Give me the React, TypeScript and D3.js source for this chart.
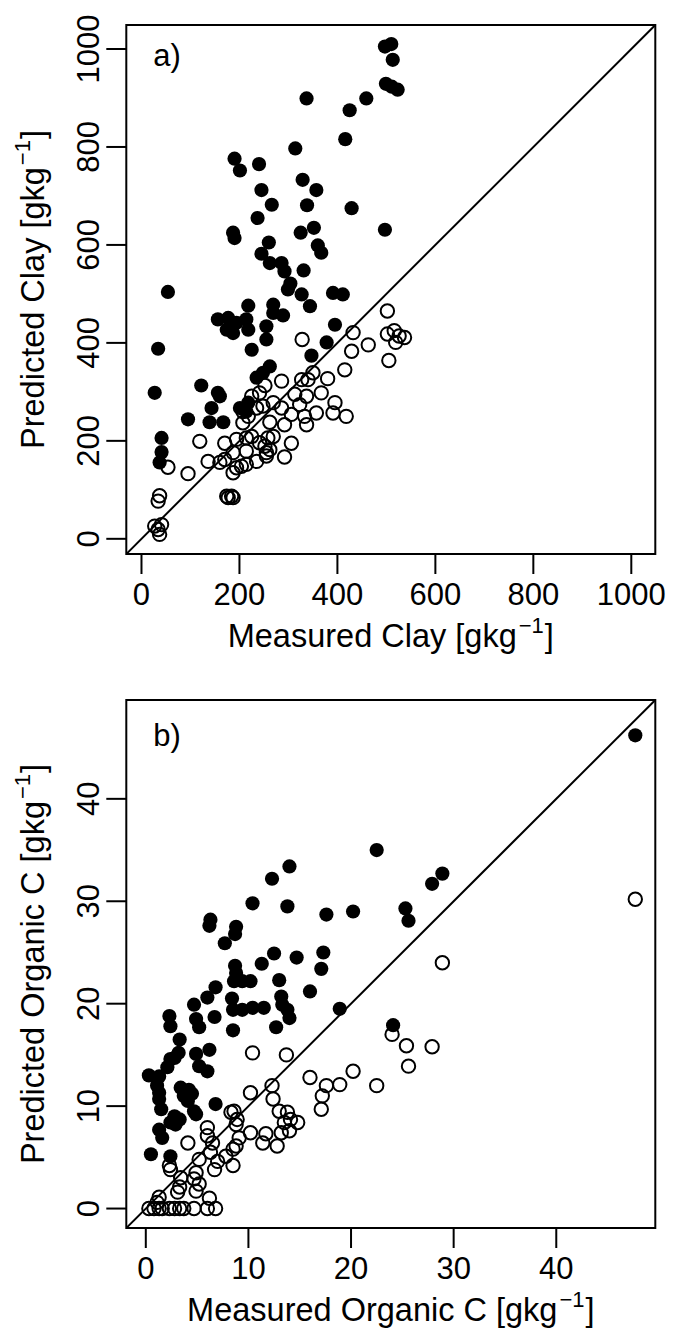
import React from "react";
import * as d3 from "d3";

// ---------- data ----------
const clayTicks = [0, 200, 400, 600, 800, 1000];
const ocTicks = [0, 10, 20, 30, 40];

// Clay: filled circles (measured, predicted)
const clayFilled: [number, number][] = [
  [497, 1005], [510, 1010], [513, 978], [499, 929], [511, 923], [523, 917], [497, 631],
  [337, 899], [459, 899], [425, 875], [416, 816], [314, 797], [190, 776], [201, 752],
  [240, 765], [329, 733], [357, 712], [245, 712], [266, 682], [338, 681], [429, 675],
  [237, 655], [187, 625], [190, 614], [325, 625], [352, 635], [260, 605], [360, 599],
  [367, 584], [245, 582], [262, 563], [286, 563], [292, 546], [331, 548], [304, 521],
  [299, 509], [54, 504], [327, 499], [391, 502], [411, 499], [344, 475], [218, 476],
  [269, 478], [269, 461], [289, 456], [156, 448], [177, 451], [194, 441], [214, 448],
  [174, 427], [187, 420], [218, 427], [255, 434], [255, 407], [395, 437], [34, 388],
  [225, 386], [378, 401], [347, 374], [262, 352], [248, 339], [235, 329], [27, 298],
  [122, 313], [156, 298], [160, 291], [143, 267], [201, 267], [218, 278], [214, 260],
  [95, 244], [139, 238], [167, 238], [41, 206], [41, 177], [37, 156],
];

// Clay: open circles
const clayOpen: [number, number][] = [
  [502, 465], [516, 425], [526, 414], [537, 411], [519, 401], [502, 418], [505, 364],
  [463, 396], [429, 383], [432, 421], [415, 345], [380, 327], [328, 407], [350, 339],
  [340, 325], [327, 325], [286, 322], [252, 313], [241, 298], [367, 298], [313, 295],
  [337, 291], [225, 291], [269, 278], [286, 267], [323, 274], [395, 278], [248, 271],
  [235, 267], [207, 260], [218, 250], [306, 254], [333, 250], [357, 257], [391, 257],
  [418, 250], [262, 238], [207, 237], [292, 233], [337, 233], [119, 199], [170, 195],
  [194, 203], [214, 206], [225, 209], [241, 196], [252, 189], [258, 206], [269, 209],
  [306, 195], [187, 176], [214, 179], [255, 176], [262, 182], [136, 158], [160, 156],
  [170, 162], [235, 158], [255, 169], [292, 167], [54, 146], [95, 133], [187, 135],
  [194, 145], [204, 148], [214, 152], [174, 87], [177, 84], [184, 87], [187, 84],
  [37, 88], [34, 77], [27, 26], [41, 29], [37, 9], [34, 19],
];

// Organic C: filled circles
const ocFilled: [number, number][] = [
  [22.5, 35.0], [14.0, 33.4], [12.3, 32.2], [10.4, 29.8], [13.8, 29.5], [17.6, 28.7],
  [20.2, 29.0], [6.3, 28.2], [6.2, 27.6], [8.8, 27.5], [8.7, 26.8], [7.7, 25.9],
  [12.5, 24.9], [14.7, 24.5], [17.3, 25.0], [25.3, 29.3], [25.6, 28.1], [28.9, 32.7],
  [27.9, 31.7], [47.7, 46.2], [24.1, 17.9],
  [11.3, 23.9], [17.1, 23.4], [8.7, 23.7], [8.8, 23.0], [8.6, 22.2], [9.4, 22.2],
  [10.2, 22.2], [13.0, 22.3], [6.8, 21.6], [16.0, 21.2], [13.2, 20.7], [13.3, 19.9],
  [13.8, 19.4], [14.0, 18.6], [6.0, 20.6], [8.4, 20.5], [4.7, 19.9], [8.5, 19.4],
  [9.4, 19.4], [10.4, 19.6], [11.5, 19.6], [18.9, 19.5], [2.3, 18.8], [2.4, 17.8],
  [4.9, 18.5], [5.2, 17.7], [6.7, 18.7], [12.7, 17.7], [8.5, 17.4], [3.3, 16.5],
  [6.2, 15.5], [3.2, 15.2], [2.8, 14.7], [2.4, 14.6], [4.9, 15.1], [5.2, 13.9],
  [2.1, 13.8], [1.3, 12.9], [0.3, 13.0], [6.0, 13.4], [1.1, 12.0], [1.3, 11.3],
  [3.4, 11.8], [4.2, 11.6], [4.5, 11.2], [3.7, 11.0], [4.1, 10.5], [1.3, 10.7],
  [1.5, 9.7], [6.8, 10.2], [4.7, 9.5], [4.9, 9.2], [2.8, 9.0], [3.3, 8.7], [2.9, 8.2],
  [2.4, 8.4], [1.3, 7.7], [1.6, 6.9], [0.5, 5.3], [2.4, 5.1],
];

// Organic C: open circles
const ocOpen: [number, number][] = [
  [47.7, 30.2], [28.9, 24.0], [24.0, 17.0], [25.4, 15.9], [27.9, 15.8], [25.6, 13.9],
  [22.5, 12.0], [10.4, 15.2], [13.7, 15.0], [20.2, 13.4], [16.0, 12.8], [17.6, 12.0],
  [18.9, 12.1], [10.2, 11.3], [12.3, 12.0], [12.4, 10.7], [17.2, 11.0], [17.1, 9.7],
  [8.6, 9.5], [8.3, 9.4], [8.9, 8.7], [8.8, 8.2], [13.0, 9.5], [13.8, 9.4], [14.1, 8.7],
  [14.8, 8.4], [13.5, 8.4], [10.2, 7.4], [11.7, 7.3], [11.4, 6.4], [12.8, 6.1],
  [13.2, 7.4], [14.0, 7.6], [6.0, 7.9], [6.0, 7.1], [9.1, 6.9], [8.8, 6.1], [8.5, 5.8],
  [4.1, 6.4], [6.5, 6.4], [6.3, 5.5], [7.8, 5.1], [7.0, 4.6], [6.7, 3.8], [5.2, 4.8],
  [4.9, 3.5], [8.5, 4.2], [2.3, 4.2], [2.4, 3.8], [3.4, 3.0], [3.3, 2.1], [3.1, 1.6],
  [4.7, 2.9], [5.2, 2.4], [4.9, 1.7], [1.3, 1.1], [1.1, 0.6], [6.2, 1.0],
  [0.3, 0], [0.8, 0], [1.3, 0], [1.6, 0], [2.3, 0], [2.8, 0], [3.3, 0], [3.7, 0],
  [4.7, 0], [6.0, 0], [6.8, 0],
];

// ---------- layout ----------
const W = 673;
const H = 1331;
const FONT = "'Liberation Sans', Arial, Helvetica, sans-serif";
const FS = 31;
const FS_LAB = 32.5;

type PanelProps = {
  id: string;
  left: number;
  right: number;
  top: number;
  bottom: number;
  domain: [number, number];
  ticks: number[];
  filled: [number, number][];
  open: [number, number][];
  tag: string;
  tagY: number;
  xLabel: string;
  yLabel: string;
};

function AxisLabel({ text, x, y, rotate }: { text: string; x: number; y: number; rotate?: boolean }) {
  return (
    <text
      x={x}
      y={y}
      textAnchor="middle"
      fontFamily={FONT}
      fontSize={FS_LAB}
      fill="#000"
      transform={rotate ? `rotate(-90 ${x} ${y})` : undefined}
    >
      {text + " [gkg"}
      <tspan fontSize={22} dy={-14} dx={2}>
        {"\u22121"}
      </tspan>
      <tspan fontSize={FS_LAB} dy={14} dx={1}>
        {"]"}
      </tspan>
    </text>
  );
}

function Panel(p: PanelProps) {
  const x = d3.scaleLinear().domain(p.domain).range([p.left, p.right]);
  const y = d3.scaleLinear().domain(p.domain).range([p.bottom, p.top]);
  const r = 6.7;
  const tickLen = 20;
  const cx = (p.left + p.right) / 2;
  const cy = (p.top + p.bottom) / 2;
  return (
    <g>
      <defs>
        <clipPath id={`clip-${p.id}`}>
          <rect x={p.left} y={p.top} width={p.right - p.left} height={p.bottom - p.top} />
        </clipPath>
      </defs>
      <g clipPath={`url(#clip-${p.id})`}>
        {p.open.map((d, i) => (
          <circle key={`o${i}`} cx={x(d[0])} cy={y(d[1])} r={r} fill="none" stroke="#000" strokeWidth={2} />
        ))}
        {p.filled.map((d, i) => (
          <circle key={`f${i}`} cx={x(d[0])} cy={y(d[1])} r={r + 0.4} fill="#000" />
        ))}
        <line
          x1={x(p.domain[0])}
          y1={y(p.domain[0])}
          x2={x(p.domain[1])}
          y2={y(p.domain[1])}
          stroke="#000"
          strokeWidth={2}
        />
      </g>
      <rect
        x={p.left}
        y={p.top}
        width={p.right - p.left}
        height={p.bottom - p.top}
        fill="none"
        stroke="#000"
        strokeWidth={2}
      />
      {/* x axis */}
      {p.ticks.map((t) => (
        <g key={`xt${t}`}>
          <line x1={x(t)} x2={x(t)} y1={p.bottom} y2={p.bottom + tickLen} stroke="#000" strokeWidth={2} />
          <text x={x(t)} y={p.bottom + 51} textAnchor="middle" fontFamily={FONT} fontSize={FS} fill="#000">
            {t}
          </text>
        </g>
      ))}
      {/* y axis */}
      {p.ticks.map((t) => (
        <g key={`yt${t}`}>
          <line x1={p.left} x2={p.left - tickLen} y1={y(t)} y2={y(t)} stroke="#000" strokeWidth={2} />
          <text
            x={p.left - 27}
            y={y(t)}
            textAnchor="middle"
            fontFamily={FONT}
            fontSize={FS}
            fill="#000"
            transform={`rotate(-90 ${p.left - 27} ${y(t)})`}
          >
            {t}
          </text>
        </g>
      ))}
      <text x={p.left + 27} y={p.tagY} fontFamily={FONT} fontSize={FS} fill="#000">
        {p.tag}
      </text>
      <AxisLabel text={p.xLabel} x={cx} y={p.bottom + 93} />
      <AxisLabel text={p.yLabel} x={44} y={cy} rotate />
    </g>
  );
}

export default function App() {
  return (
    <svg
      width={W}
      height={H}
      viewBox={`0 0 ${W} ${H}`}
      style={{ position: "absolute", left: 0, top: 0, background: "#fff" }}
    >
      <rect x={0} y={0} width={W} height={H} fill="#fff" />
      <Panel
        id="a"
        left={126.3}
        right={655.3}
        top={25}
        bottom={554}
        domain={[-31, 1049]}
        ticks={clayTicks}
        filled={clayFilled}
        open={clayOpen}
        tag="a)"
        tagY={66}
        xLabel="Measured Clay"
        yLabel="Predicted Clay"
      />
      <Panel
        id="b"
        left={126.3}
        right={655.3}
        top={700}
        bottom={1228}
        domain={[-1.9, 49.65]}
        ticks={ocTicks}
        filled={ocFilled}
        open={ocOpen}
        tag="b)"
        tagY={746}
        xLabel="Measured Organic C"
        yLabel="Predicted Organic C"
      />
    </svg>
  );
}
